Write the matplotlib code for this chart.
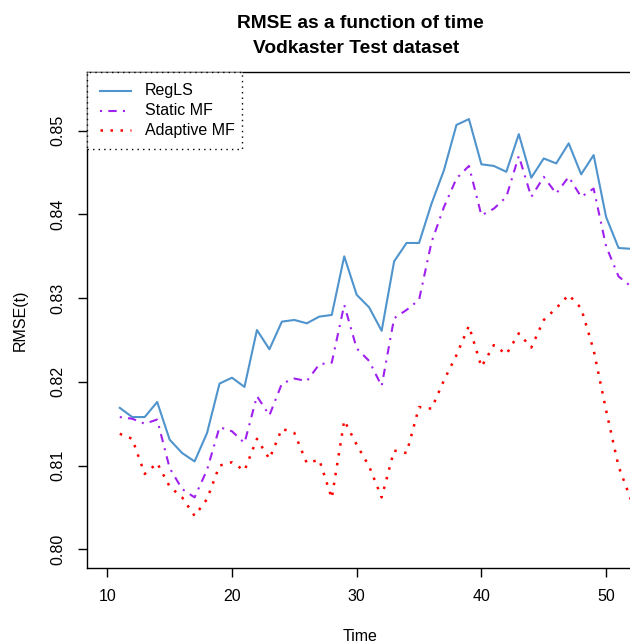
import matplotlib
matplotlib.use("Agg")
import matplotlib.pyplot as plt
from matplotlib.lines import Line2D
from matplotlib.patches import Rectangle

plt.rcParams['font.family'] = ['Liberation Sans', 'DejaVu Sans']

time = list(range(11, 53))
reg_ls = [0.8169, 0.8158, 0.8158, 0.8176, 0.8131, 0.8115, 0.8105, 0.8139, 0.8198, 0.8205,
          0.8194, 0.8262, 0.8239, 0.8272, 0.8274, 0.8270, 0.8278, 0.8280, 0.8350, 0.8304,
          0.8289, 0.8261, 0.8344, 0.8366, 0.8366, 0.8413, 0.8453, 0.8507, 0.8514, 0.8460,
          0.8458, 0.8451, 0.8496, 0.8444, 0.8467, 0.8461, 0.8485, 0.8448, 0.8471, 0.8397,
          0.8360, 0.8359]
static_mf = [0.8158, 0.8156, 0.8150, 0.8155, 0.8097, 0.8072, 0.8062, 0.8095, 0.8146, 0.8141,
             0.8127, 0.8183, 0.8160, 0.8198, 0.8204, 0.8201, 0.8221, 0.8223, 0.8292, 0.8240,
             0.8225, 0.8195, 0.8276, 0.8286, 0.8298, 0.8367, 0.8409, 0.8443, 0.8458, 0.8399,
             0.8407, 0.8421, 0.8470, 0.8421, 0.8445, 0.8425, 0.8445, 0.8421, 0.8431, 0.8362,
             0.8326, 0.8314]
adaptive_mf = [0.8138, 0.8132, 0.8090, 0.8103, 0.8075, 0.8062, 0.8040, 0.8060, 0.8100, 0.8104,
               0.8094, 0.8132, 0.8108, 0.8144, 0.8139, 0.8103, 0.8107, 0.8061, 0.8154, 0.8125,
               0.8099, 0.8062, 0.8118, 0.8115, 0.8170, 0.8168, 0.8202, 0.8232, 0.8267, 0.8218,
               0.8244, 0.8233, 0.8258, 0.8241, 0.8274, 0.8288, 0.8304, 0.8288, 0.8238, 0.8166,
               0.8099, 0.8059]

series_names = ["RegLS", "Static MF", "Adaptive MF"]
series_colors = ["#4F94CD", "#A020F0", "#FF0000"]
series_styles = ["-", (0, (1, 3, 4, 3)), (0, (1, 3))]
xticks = [10, 20, 30, 40, 50]
yticks = [0.80, 0.81, 0.82, 0.83, 0.84, 0.85]

W, H = 630, 643
fig = plt.figure(figsize=(W / 100, H / 100), dpi=100)

def fx(x):
    return x / W

def fy(y):
    return 1 - y / H

left, right, top, bottom = 86.7, 633.0, 72.0, 567.7
ax = fig.add_axes([fx(left), fy(bottom), fx(right) - fx(left), fy(top) - fy(bottom)])

# limits from pixel calibration
px_per_x = 12.47
x0_px = 107.3
xlim = (10 + (left - x0_px) / px_per_x, 10 + (right - x0_px) / px_per_x)
px_per_y = 8370.0
y0_px = 549.3
ylim = (0.80 - (bottom - y0_px) / px_per_y, 0.80 + (y0_px - top) / px_per_y)
ax.set_xlim(*xlim)
ax.set_ylim(*ylim)

data = [reg_ls, static_mf, adaptive_mf]
lws = [1.5, 1.5, 1.8]
for vals, name, c, ls, lw in zip(data, series_names, series_colors, series_styles, lws):
    ax.plot(time, vals, color=c, linestyle=ls, lw=lw, label=name)

ax.set_xticks(xticks)
ax.set_xticklabels([str(t) for t in xticks])
ax.set_yticks(yticks)
ax.set_yticklabels([f"{v:.2f}" for v in yticks], rotation=90, va='center')
ax.tick_params(axis='both', direction='out', length=6.7, width=1.0, labelsize=11.5, colors='black')
ax.tick_params(axis='x', pad=8.5)
ax.tick_params(axis='y', pad=8.9)
for s in ax.spines.values():
    s.set_linewidth(1.0)
    s.set_color('black')

# titles and labels
fig.text(fx(360.3), fy(28.5), "RMSE as a function of time", ha='center', va='baseline',
         fontsize=13.8, fontweight='bold')
fig.text(fx(356.0), fy(53.0), "Vodkaster Test dataset", ha='center', va='baseline',
         fontsize=13.8, fontweight='bold')
fig.text(fx(360.0), fy(641.0), "Time", ha='center', va='baseline', fontsize=11.5)
fig.text(fx(20.0), fy(320.0), "RMSE(t)", ha='center', va='center', rotation=90, fontsize=11.5)

# legend (manual, R-style)
leg_l, leg_t, leg_r, leg_b = 86.7, 72.0, 241.7, 149.0
fig.patches.append(Rectangle((fx(leg_l), fy(leg_b)), fx(leg_r) - fx(leg_l), fy(leg_t) - fy(leg_b),
                             transform=fig.transFigure, fill=True, facecolor='white',
                             edgecolor='black', lw=1.0, linestyle=(0, (1, 3)), zorder=5))
row_y = [91.0, 110.7, 130.0]
for yy, name, c, ls, lw in zip(row_y, series_names, series_colors, series_styles, lws):
    fig.add_artist(Line2D([fx(100), fx(131)], [fy(yy), fy(yy)], transform=fig.transFigure,
                          color=c, linestyle=ls, lw=lw, zorder=6))
    fig.text(fx(145), fy(yy), name, ha='left', va='center', fontsize=11.5, zorder=6)

fig.savefig("out.png", dpi=100)
